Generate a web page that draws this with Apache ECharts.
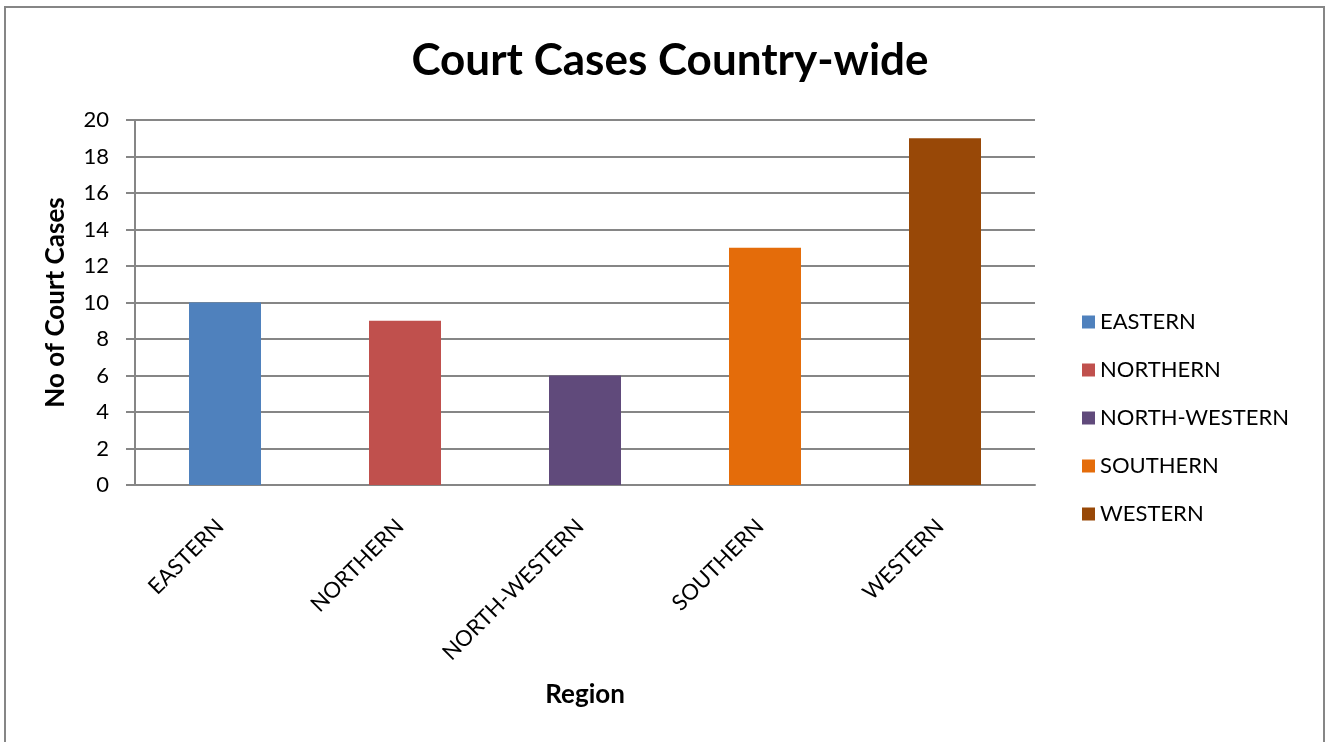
<!DOCTYPE html>
<html>
<head>
<meta charset="utf-8">
<script src="https://cdn.jsdelivr.net/npm/echarts@6/dist/echarts.min.js"></script>
<style>
html,body{margin:0;padding:0;background:#fff;}
#c{width:1328px;height:742px;}
</style>
</head>
<body>
<div id="c"></div>
<script>
const categories = ['EASTERN','NORTHERN','NORTH-WESTERN','SOUTHERN','WESTERN'];
const values = [10, 9, 6, 13, 19];
const colors = ['#4F81BD','#C0504D','#604A7B','#E46C0A','#984807'];
const yTicks = {min:0, max:20, interval:2};

const FONT = 'Lato, "Open Sans", sans-serif';
const chart = echarts.init(document.getElementById('c'));
const series = categories.map((name, i) => ({
  name: name,
  type: 'bar',
  stack: 'all',
  barWidth: '40%',
  itemStyle: {color: colors[i]},
  data: categories.map((_, j) => j === i ? values[i] : null)
}));
chart.setOption({
  animation: false,
  backgroundColor: '#fff',
  title: {
    text: 'Court Cases Country-wide',
    left: 665, top: 34, textAlign: 'center',
    textStyle: {fontFamily: FONT, fontWeight: 'bold', fontSize: 44, color: '#000'}
  },
  legend: {
    orient: 'vertical',
    left: 1077, top: 306,
    itemWidth: 13, itemHeight: 13, itemGap: 26,
    icon: 'rect',
    data: categories,
    textStyle: {fontFamily: FONT, fontSize: 22, lineHeight: 22, color: '#000'}
  },
  graphic: [{
    type: 'rect', silent: true, z: -1,
    shape: {x: 5, y: 7, width: 1319, height: 760},
    style: {fill: 'none', stroke: '#868686', lineWidth: 2}
  }],
  grid: {left: 135, right: 293, top: 120, bottom: 257, containLabel: false},
  xAxis: {
    type: 'category',
    data: categories,
    name: 'Region',
    nameLocation: 'middle',
    nameGap: 197,
    nameTextStyle: {fontFamily: FONT, fontWeight: 'bold', fontSize: 26, color: '#000'},
    axisLine: {lineStyle: {color: '#868686', width: 2}},
    axisTick: {show: false},
    axisLabel: {rotate: 45, fontFamily: FONT, fontSize: 22, color: '#000', margin: 33, padding: [0, 7, 0, 0], interval: 0}
  },
  yAxis: {
    type: 'value',
    min: yTicks.min, max: yTicks.max, interval: yTicks.interval,
    name: 'No of Court Cases',
    nameLocation: 'middle',
    nameGap: 66,
    nameTextStyle: {fontFamily: FONT, fontWeight: 'bold', fontSize: 26, color: '#000'},
    axisLine: {show: true, lineStyle: {color: '#868686', width: 2}},
    axisTick: {show: true, length: 9, lineStyle: {color: '#868686', width: 2}},
    axisLabel: {fontFamily: FONT, fontSize: 22, color: '#000', margin: 26},
    splitLine: {lineStyle: {color: '#868686', width: 2}}
  },
  series: series
});
</script>
</body>
</html>
